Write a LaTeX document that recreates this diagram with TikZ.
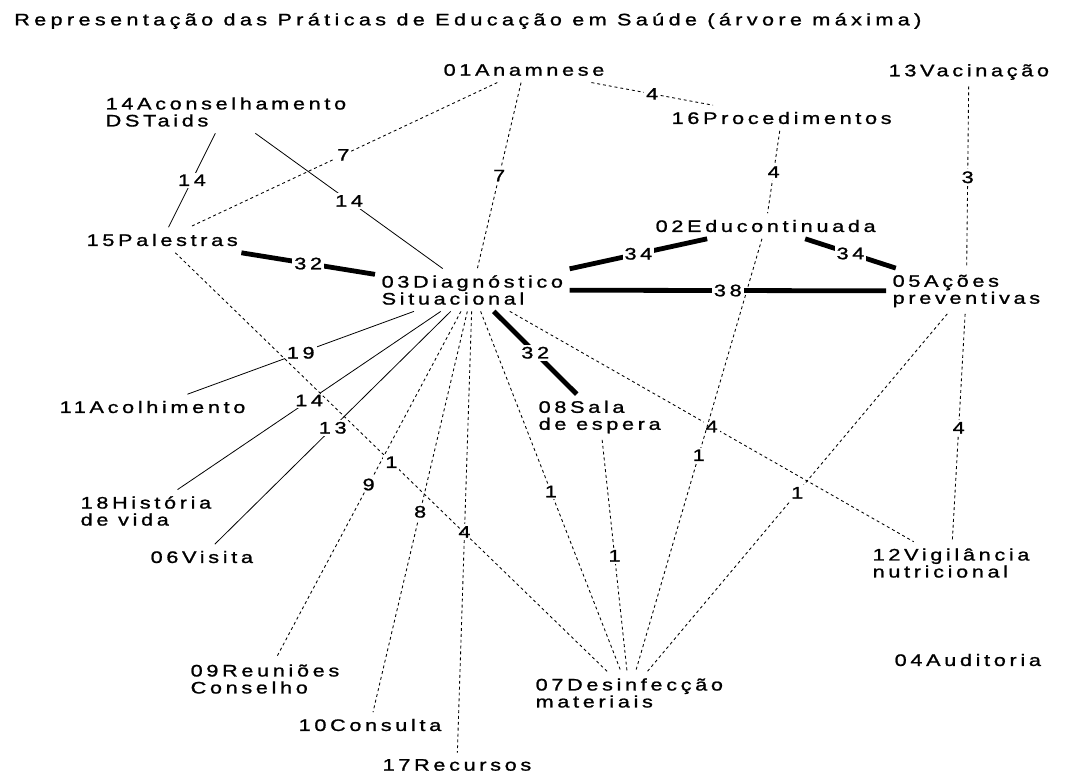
\documentclass[tikz,border=0pt]{standalone}
\usepackage{fontspec}
\setmainfont{Liberation Sans}[FakeStretch=1.3,LetterSpace=22,FakeBold=1.2]

\begin{document}
\begin{tikzpicture}[x=0.75pt,y=-0.75pt,
  font=\fontsize{12.5}{12.75}\selectfont,
  pratica/.style={align=left,anchor=west,inner sep=2pt,outer sep=3pt},
  peso/.style={midway,fill=white,inner sep=1.5pt},
  fraca/.style={line width=0.65pt,dash pattern=on 2.2pt off 2.2pt},
  media/.style={line width=0.6pt},
  forte/.style={line width=3.6pt}]

\useasboundingbox (0,0) rectangle (1080,774);

\node[anchor=west,inner sep=0pt] (titulo) at (14,21)
  {\addfontfeatures{LetterSpace=26}Representação das Práticas de Educação em Saúde (árvore máxima)};

% praticas
\node[pratica] (p01) at (437,70)  {01Anamnese};
\node[pratica] (p13) at (882,72)  {13Vacinação};
\node[pratica] (p14) at (99,112)  {14Aconselhamento\\DSTaids};
\node[pratica] (p16) at (665,118) {16Procedimentos};
\node[pratica] (p02) at (649,226) {02Educontinuada};
\node[pratica] (p15) at (80,240)  {15Palestras};
\node[pratica] (p03) at (375,290) {03Diagnóstico\\Situacional};
\node[pratica] (p05) at (886,291) {05Ações\\preventivas};
\node[pratica] (p11) at (53,407)  {11Acolhimento};
\node[pratica] (p08) at (532,417) {08Sala\\de espera};
\node[pratica] (p18) at (74,511)  {18História\\de vida};
\node[pratica] (p06) at (144,557) {06Visita};
\node[pratica] (p12) at (866,563) {12Vigilância\\nutricional};
\node[pratica] (p09) at (184,679) {09Reuniões\\Conselho};
\node[pratica] (p04) at (888,660) {04Auditoria};
\node[pratica] (p07) at (529,693) {07Desinfecção\\materiais};
\node[pratica] (p10) at (292,725) {10Consulta};
\node[pratica] (p17) at (376,765) {17Recursos};

% ligacoes
\draw[media] (p14) -- node[peso]{14} (p15);
\draw[media] (p14) -- node[peso]{14} (p03);
\draw[fraca] (p01) -- node[peso]{7} (p15);
\draw[fraca] (p01) -- node[peso]{7} (p03);
\draw[fraca] (p01) -- node[peso]{4} (p16);
\draw[fraca] (p16) -- node[peso]{4} (p02);
\draw[fraca] (p13) -- node[peso]{3} (p05);
\draw[forte] (p15) -- node[peso]{32} (p03);
\draw[forte] (p02) -- node[peso]{34} (p03);
\draw[forte] (p02) -- node[peso]{34} (p05);
\draw[forte] (p03) -- node[peso]{38} (p05);
\draw[forte] (p03) -- node[peso]{32} (p08);
\draw[media] (p03) -- node[peso]{19} (p11);
\draw[media] (p03) -- node[peso]{14} (p18);
\draw[media] (p03) -- node[peso]{13} (p06);
\draw[fraca] (p03) -- node[peso]{9} (p09);
\draw[fraca] (p03) -- node[peso]{8} (p10);
\draw[fraca] (p03) -- node[peso]{4} (p17);
\draw[fraca] (p03) -- node[peso]{1} (p07);
\draw[fraca] (p03) -- node[peso]{4} (p12);
\draw[fraca] (p15) -- node[peso]{1} (p07);
\draw[fraca] (p08) -- node[peso]{1} (p07);
\draw[fraca] (p02) -- node[peso]{1} (p07);
\draw[fraca] (p05) -- node[peso]{1} (p07);
\draw[fraca] (p05) -- node[peso]{4} (p12);
\end{tikzpicture}
\end{document}
